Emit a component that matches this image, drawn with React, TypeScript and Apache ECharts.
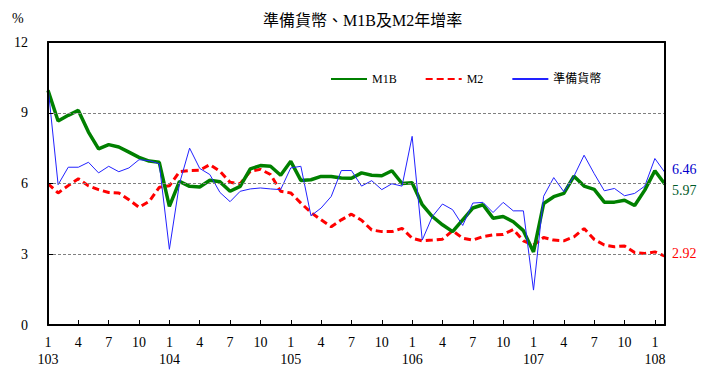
import React, { useEffect, useRef } from "react";
import * as echarts from "echarts";

const years = [103, 104, 105, 106, 107, 108];
const monthsInLastYear = 2;
const categories: string[] = [];
years.forEach((y, yi) => {
  const n = yi === years.length - 1 ? monthsInLastYear : 12;
  for (let m = 1; m <= n; m++) categories.push(`${y}/${m}`);
});

const m1b = [
  9.95, 8.65, 8.89, 9.1, 8.18, 7.47, 7.65, 7.55, 7.33, 7.11, 6.95, 6.9,
  5.03, 6.09, 5.88, 5.85, 6.14, 6.07, 5.67, 5.88, 6.62, 6.76, 6.73, 6.35,
  6.94, 6.13, 6.16, 6.3, 6.3, 6.23, 6.22, 6.45, 6.35, 6.33, 6.54, 6.0,
  6.03, 5.1, 4.6, 4.25, 3.96, 4.46, 4.96, 5.1, 4.53, 4.6, 4.38, 4.0,
  3.1, 5.15, 5.44, 5.58, 6.31, 5.89, 5.75, 5.21, 5.21, 5.29, 5.07, 5.72,
  6.54, 5.97,
];
const m2 = [
  5.99, 5.6, 5.91, 6.2, 5.9, 5.74, 5.62, 5.6, 5.31, 4.99, 5.24, 5.84,
  5.9, 6.5, 6.55, 6.56, 6.8, 6.52, 6.05, 5.99, 6.52, 6.6, 6.38, 5.67,
  5.6, 5.17, 4.77, 4.46, 4.17, 4.46, 4.7, 4.44, 4.03, 3.96, 3.96, 4.1,
  3.68, 3.57, 3.6, 3.64, 4.0, 3.68, 3.6, 3.75, 3.82, 3.84, 4.05, 3.57,
  3.39, 3.71, 3.6, 3.57, 3.74, 4.09, 3.63, 3.39, 3.32, 3.35, 3.07, 3.03,
  3.1, 2.92,
];
const reserveMoney = [
  10.1, 5.95, 6.69, 6.69, 6.9, 6.45, 6.73, 6.5, 6.66, 7.01, 6.97, 6.84,
  3.21, 6.0, 7.5, 6.64, 6.38, 5.62, 5.23, 5.67, 5.77, 5.81, 5.77, 5.74,
  6.66, 6.73, 4.63, 4.96, 5.45, 6.55, 6.55, 5.89, 6.12, 5.74, 5.99, 5.89,
  8.0, 3.6, 4.6, 5.13, 4.89, 4.22, 5.17, 5.2, 4.77, 5.2, 4.84, 4.84,
  1.48, 5.46, 6.25, 5.65, 6.31, 7.2, 6.42, 5.69, 5.79, 5.48, 5.58, 5.89,
  7.06, 6.46,
];

const serif = "'Liberation Serif', 'Noto Sans CJK TC', serif";

export default function App() {
  const ref = useRef<HTMLDivElement>(null);
  useEffect(() => {
    if (!ref.current) return;
    const chart = echarts.init(ref.current, null, { renderer: "svg" });
    const endLabel = (color: string, offset: number[]) => ({
      show: true,
      formatter: (p: any) => Number(p.value).toFixed(2),
      color,
      fontFamily: serif,
      fontSize: 14,
      distance: 7,
      offset,
    });
    const frameAxis = { show: true, onZero: false, lineStyle: { color: "#000", width: 2 } };
    chart.setOption({
      animation: false,
      backgroundColor: "#fff",
      title: {
        text: "準備貨幣、M1B及M2年增率",
        left: 258,
        top: 7,
        textStyle: { fontSize: 16, fontWeight: "normal", color: "#000", fontFamily: serif },
      },
      graphic: [
        {
          type: "text",
          left: 12,
          top: 11,
          style: { text: "%", fontSize: 14, fill: "#000", fontFamily: serif },
        },
      ],
      legend: {
        data: ["M1B", "M2", "準備貨幣"],
        left: 325,
        top: 68,
        itemWidth: 36,
        itemHeight: 14,
        itemGap: 28,
        itemStyle: { opacity: 0 },
        textStyle: { fontSize: 12, color: "#000", fontFamily: serif },
      },
      grid: { left: 48, right: 47, top: 42, bottom: 56 },
      xAxis: [
        {
          type: "category",
          data: categories,
          boundaryGap: false,
          axisLine: frameAxis,
          axisTick: { inside: true, interval: 2, length: 5, lineStyle: { color: "#000" } },
          axisLabel: {
            interval: 2,
            margin: 9,
            fontSize: 14,
            lineHeight: 17,
            color: "#000",
            fontFamily: serif,
            formatter: (v: string) => {
              const [y, m] = v.split("/");
              return m === "1" ? `${m}\n${y}` : m;
            },
          },
          splitLine: { show: false },
          z: 5,
        },
        {
          type: "category",
          data: categories,
          position: "top",
          boundaryGap: false,
          axisLine: frameAxis,
          axisTick: { show: false },
          axisLabel: { show: false },
          splitLine: { show: false },
          z: 5,
        },
      ],
      yAxis: [
        {
          type: "value",
          min: 0,
          max: 12,
          interval: 3,
          axisLine: frameAxis,
          axisTick: { show: true, inside: true, length: 5, lineStyle: { color: "#000" } },
          axisLabel: { margin: 20, fontSize: 14, color: "#000", fontFamily: serif },
          splitLine: { show: true, lineStyle: { color: "#808080", type: [3, 2], width: 1 } },
          z: 5,
        },
        {
          type: "value",
          min: 0,
          max: 12,
          interval: 3,
          position: "right",
          axisLine: frameAxis,
          axisTick: { show: false },
          axisLabel: { show: false },
          splitLine: { show: false },
          z: 5,
        },
      ],
      series: [
        {
          name: "M1B",
          type: "line",
          data: m1b,
          symbol: "none",
          lineStyle: { color: "#008000", width: 3.5 },
          itemStyle: { color: "#008000" },
          endLabel: endLabel("#005a2a", [0, 6]),
          z: 3,
        },
        {
          name: "M2",
          type: "line",
          data: m2,
          symbol: "none",
          lineStyle: { color: "#ff0000", width: 3, type: [7, 4] },
          itemStyle: { color: "#ff0000" },
          endLabel: endLabel("#ff0000", [0, -3]),
          z: 2,
        },
        {
          name: "準備貨幣",
          type: "line",
          data: reserveMoney,
          symbol: "none",
          lineStyle: { color: "#2222ff", width: 1 },
          itemStyle: { color: "#2222ff" },
          endLabel: endLabel("#0000cc", [0, -3]),
          z: 4,
        },
      ],
    });
    return () => chart.dispose();
  }, []);
  return (
    <div
      ref={ref}
      style={{ position: "fixed", left: 0, top: 0, width: 712, height: 381 }}
    />
  );
}
